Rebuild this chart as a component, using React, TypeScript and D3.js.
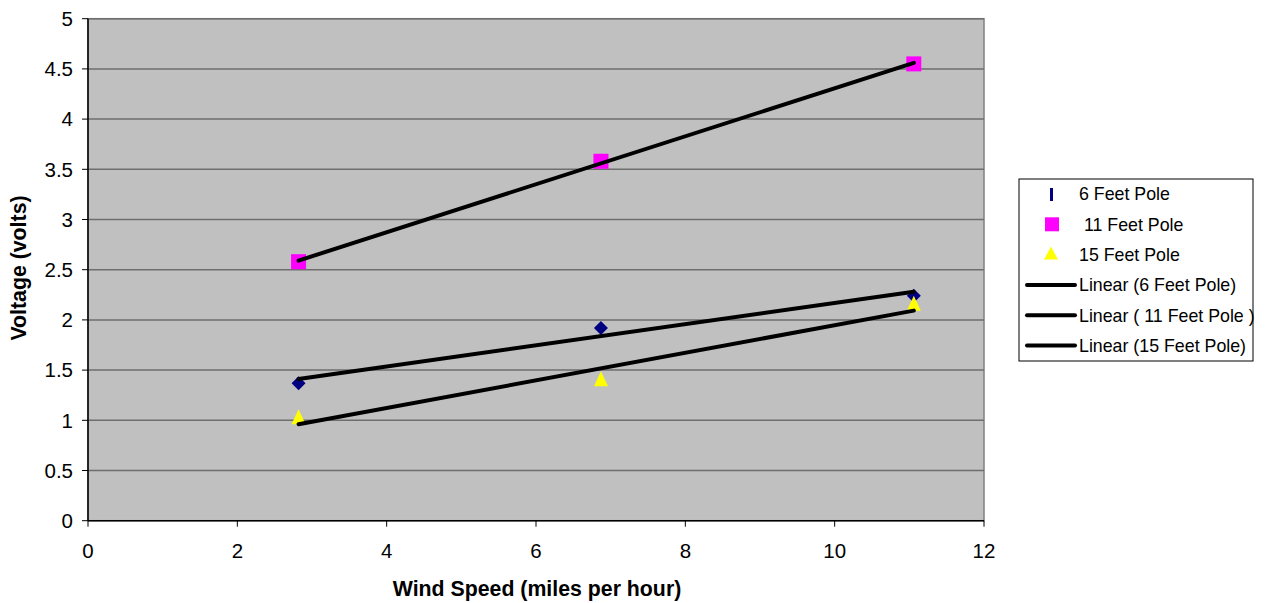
import React from "react";
import * as d3 from "d3";

// Wind speed (mph) and measured voltage for each pole height
const windSpeed = [2.82, 6.87, 11.06];
const pole6 = [1.37, 1.92, 2.24];
const pole11 = [2.58, 3.58, 4.55];
const pole15 = [1.02, 1.40, 2.15];

const xTicks = [0, 2, 4, 6, 8, 10, 12];
const yTicks = [0, 0.5, 1, 1.5, 2, 2.5, 3, 3.5, 4, 4.5, 5];

const seriesNames = ["6 Feet Pole", " 11 Feet Pole", "15 Feet Pole"];
const trendNames = ["Linear (6 Feet Pole)", "Linear ( 11 Feet Pole )", "Linear (15 Feet Pole)"];

const W = 1274;
const H = 603;
const FONT = "Liberation Sans, Arial, sans-serif";

function fit(xs: number[], ys: number[]) {
  const mx = d3.mean(xs)!;
  const my = d3.mean(ys)!;
  let num = 0;
  let den = 0;
  xs.forEach((x, i) => {
    num += (x - mx) * (ys[i] - my);
    den += (x - mx) * (x - mx);
  });
  const slope = num / den;
  return (x: number) => my + slope * (x - mx);
}

export default function App() {
  const left = 88, right = 984, top = 18.7, bottom = 520.7;
  const x = d3.scaleLinear().domain([0, 12]).range([left, right]);
  const y = d3.scaleLinear().domain([0, 5]).range([bottom, top]);

  const series = [
    { name: seriesNames[0], values: pole6, color: "#000080", shape: "diamond" },
    { name: seriesNames[1], values: pole11, color: "#FF00FF", shape: "square" },
    { name: seriesNames[2], values: pole15, color: "#FFFF00", shape: "triangle" },
  ];

  const line = d3.line<[number, number]>().x((d) => x(d[0])).y((d) => y(d[1]));
  const x0 = d3.min(windSpeed)!;
  const x1 = d3.max(windSpeed)!;

  const marker = (shape: string, cx: number, cy: number, color: string, key: string) => {
    if (shape === "diamond") {
      const r = 7;
      return (
        <path key={key} d={`M${cx},${cy - r}L${cx + r},${cy}L${cx},${cy + r}L${cx - r},${cy}Z`} fill={color} />
      );
    }
    if (shape === "square") {
      return <rect key={key} x={cx - 7.5} y={cy - 7.5} width={15} height={15} fill={color} />;
    }
    return (
      <path key={key} d={`M${cx},${cy - 9}L${cx + 7},${cy + 6}L${cx - 7},${cy + 6}Z`} fill={color} />
    );
  };

  const legendX = 1019, legendY = 179, legendW = 234, legendH = 182;
  const rowY = (i: number) => legendY + 15 + i * 30.3;

  return (
    <svg width={W} height={H} style={{ position: "absolute", left: 0, top: 0 }} fontFamily={FONT}>
      <rect x={0} y={0} width={W} height={H} fill="#ffffff" />
      {/* plot area */}
      <rect x={left} y={top} width={right - left} height={bottom - top} fill="#C0C0C0" stroke="#808080" strokeWidth={1.5} />
      {yTicks.filter((t) => t > 0).map((t) => (
        <line key={`g${t}`} x1={left} x2={right} y1={y(t)} y2={y(t)} stroke="#6e6e6e" strokeWidth={1.5} />
      ))}
      {/* axes */}
      <line x1={left} x2={left} y1={top} y2={bottom} stroke="#000" strokeWidth={1.5} />
      <line x1={left} x2={right} y1={bottom} y2={bottom} stroke="#000" strokeWidth={1.5} />
      {yTicks.map((t) => (
        <g key={`yt${t}`}>
          <line x1={left - 6} x2={left} y1={y(t)} y2={y(t)} stroke="#000" strokeWidth={1} />
          <text x={left - 15} y={y(t)} dy="0.36em" textAnchor="end" fontSize={20.5}>{t}</text>
        </g>
      ))}
      {xTicks.map((t) => (
        <g key={`xt${t}`}>
          <line x1={x(t)} x2={x(t)} y1={bottom} y2={bottom + 6} stroke="#000" strokeWidth={1} />
          <text x={x(t)} y={bottom + 37} textAnchor="middle" fontSize={20.5}>{t}</text>
        </g>
      ))}
      <text x={537} y={596} textAnchor="middle" fontSize={21.3} fontWeight="bold">Wind Speed (miles per hour)</text>
      <text transform={`translate(26,268) rotate(-90)`} textAnchor="middle" fontSize={21.3} fontWeight="bold">Voltage (volts)</text>

      {/* data markers */}
      {series.map((s, si) =>
        s.values.map((v, i) => marker(s.shape, x(windSpeed[i]), y(v), s.color, `m${si}-${i}`))
      )}
      {/* linear trendlines */}
      {series.map((s, si) => {
        const f = fit(windSpeed, s.values);
        return (
          <path key={`t${si}`} d={line([[x0, f(x0)], [x1, f(x1)]])!} fill="none" stroke="#000" strokeWidth={4} strokeLinecap="round" />
        );
      })}

      {/* legend */}
      <rect x={legendX} y={legendY} width={legendW} height={legendH} fill="#fff" stroke="#000" strokeWidth={1} />
      <rect x={1050} y={rowY(0) - 6} width={3} height={13} fill="#000080" />
      <rect x={1045} y={rowY(1) - 7} width={14} height={14} fill="#FF00FF" />
      <path d={`M1051,${rowY(2) - 8}L1058,${rowY(2) + 5}L1044,${rowY(2) + 5}Z`} fill="#FFFF00" />
      {seriesNames.map((n, i) => (
        <text key={`ln${i}`} x={1079} y={rowY(i)} dy="0.36em" fontSize={17.8} xmlSpace="preserve">{n}</text>
      ))}
      {trendNames.map((n, i) => (
        <g key={`lt${i}`}>
          <line x1={1027} x2={1075} y1={rowY(i + 3)} y2={rowY(i + 3)} stroke="#000" strokeWidth={4} strokeLinecap="round" />
          <text x={1079} y={rowY(i + 3)} dy="0.36em" fontSize={17.8} xmlSpace="preserve">{n}</text>
        </g>
      ))}
    </svg>
  );
}
